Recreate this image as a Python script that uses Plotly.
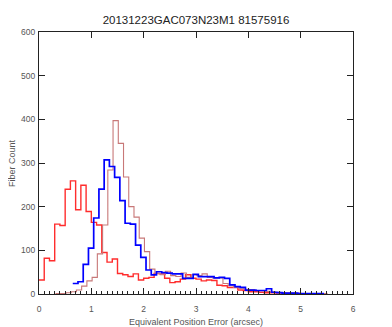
import numpy as np
import plotly.graph_objects as go

# Histogram bin definition (arcsec)
bin_width = 0.1

# Red histogram
red_start = 0.0
red_counts = [32, 82, 76, 160, 157, 240, 259, 193, 249, 189,
              164, 158, 95, 73, 80, 47, 44, 40, 46, 32,
              36, 38, 47, 46, 36, 26, 28, 34, 44, 36,
              34, 30, 32, 31, 20, 19, 15, 15, 9, 8,
              5, 5, 4, 3, 3, 2, 2, 1, 1, 1, 0]

# Blue histogram
blue_start = 0.645
blue_counts = [24, 28, 68, 105, 174, 240, 307, 292, 267, 214,
               162, 160, 112, 84, 55, 44, 51, 49, 48, 46,
               46, 36, 36, 45, 40, 40, 40, 37, 38, 36,
               21, 17, 15, 9, 9, 8, 8, 12, 4, 3,
               2, 2, 2, 1, 1, 1, 1, 1]

# Light red histogram
pink_start = 0.315
pink_counts = [1, 1, 3, 5, 9, 18, 30, 38, 92, 158,
               284, 397, 345, 268, 200, 176, 128, 97, 57, 47,
               44, 52, 42, 40, 48, 38, 44, 42, 46, 38,
               37, 37, 24, 19, 15, 13, 11, 10, 8, 8,
               6, 5, 4, 3, 2, 2, 1, 1, 1, 1, 1, 1]

x_ticks = [0, 1, 2, 3, 4, 5, 6]
y_ticks = [0, 100, 200, 300, 400, 500, 600]

title_text = "20131223GAC073N23M1 81575916"
x_title = "Equivalent Position Error (arcsec)"
y_title = "Fiber Count"


def steps(start, counts):
    edges = start + bin_width * np.arange(len(counts) + 1)
    ys = list(counts) + [counts[-1]]
    return edges, ys


fig = go.Figure()
for start, counts, color, width in [
    (red_start, red_counts, "rgb(255,45,45)", 1.4),
    (pink_start, pink_counts, "rgb(200,120,120)", 1.1),
    (blue_start, blue_counts, "rgb(0,0,255)", 1.7),
]:
    xs, ys = steps(start, counts)
    fig.add_trace(go.Scatter(x=xs, y=ys, mode="lines",
                             line=dict(shape="hv", color=color, width=width),
                             showlegend=False, hoverinfo="skip"))

# invisible trace to anchor the top/right tick axes
fig.add_trace(go.Scatter(x=[0], y=[0], xaxis="x2", yaxis="y2", mode="markers",
                         marker=dict(opacity=0), showlegend=False, hoverinfo="skip"))

FONT = "Liberation Sans, Arial, sans-serif"
tick_font = dict(family=FONT, size=8.5, color="#555")
axis_color = "#222"

# page body has an 8px margin; figure is sized/offset to compensate
W, H = 384, 319

fig.update_layout(
    width=W, height=H,
    margin=dict(l=31, r=39, t=24, b=33),
    paper_bgcolor="white", plot_bgcolor="white",
    title=dict(text=title_text, x=0.5, xanchor="center", y=1 - 12 / H,
               yanchor="middle", yref="container", xref="paper",
               font=dict(family=FONT, size=11.5, color="#222")),
    xaxis=dict(range=[0, 6], tickvals=x_ticks, ticks="inside", ticklen=6,
               tickcolor=axis_color, showline=True, linecolor=axis_color, linewidth=1,
               mirror=True, showgrid=False, zeroline=False, tickfont=tick_font,
               ticklabelstandoff=7, automargin=False,
               minor=dict(dtick=0.1, ticks="inside", ticklen=3, tickcolor=axis_color,
                          showgrid=False)),
    yaxis=dict(range=[0, 600], tickvals=y_ticks, ticks="inside", ticklen=6,
               tickcolor=axis_color, showline=True, linecolor=axis_color, linewidth=1,
               mirror=True, showgrid=False, zeroline=False, tickfont=tick_font,
               ticklabelstandoff=1, automargin=False),
    xaxis2=dict(range=[0, 6], overlaying="x", side="top", tickvals=x_ticks[1:-1],
                ticks="inside", ticklen=6, tickcolor=axis_color, showticklabels=False,
                showline=False, showgrid=False, zeroline=False, automargin=False),
    yaxis2=dict(range=[0, 600], overlaying="y", side="right", tickvals=y_ticks[1:-1],
                ticks="inside", ticklen=6, tickcolor=axis_color, showticklabels=False,
                showline=False, showgrid=False, zeroline=False, automargin=False),
    annotations=[
        dict(text=x_title, xref="paper", yref="paper", x=0.5, y=0,
             xanchor="center", yanchor="middle", yshift=-28, showarrow=False,
             font=dict(family=FONT, size=9, color="#555")),
        dict(text=y_title, xref="paper", yref="paper", x=0, y=0.5, textangle=-90,
             xanchor="center", yanchor="middle", xshift=-27, showarrow=False,
             font=dict(family=FONT, size=9, color="#555")),
    ],
)

fig.write_html("out.html")
